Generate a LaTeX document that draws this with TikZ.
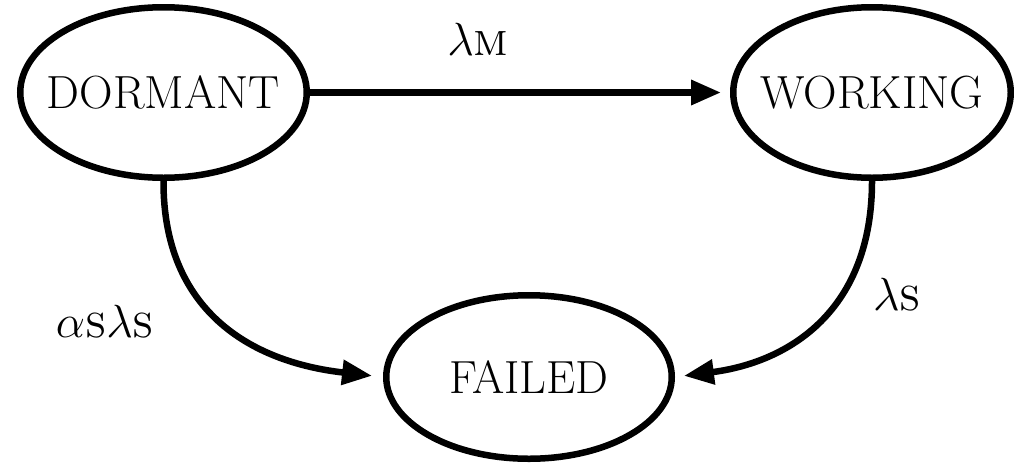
\documentclass[tikz,border=0pt]{standalone}
\usepackage{fix-cm}
\usetikzlibrary{shapes.geometric,arrows.meta}
\tikzset{
  state/.style={ellipse, draw=black, line width=6.5pt, inner sep=0pt, font=\fontsize{46.5}{54}\selectfont},
  arr/.style={line width=6.5pt, -{Triangle[length=30pt,width=24pt]}},
  lab/.style={inner sep=0pt, font=\fontsize{46.5}{54}\selectfont},
}
\begin{document}
\begin{tikzpicture}[x=1pt,y=-1pt]
\useasboundingbox (0,0) rectangle (1014,464);
\node[state, minimum width=286.5pt, minimum height=170.5pt] (d) at (163.5,92.5) {\makebox[0pt]{DORMANT}};
\node[state, minimum width=277.5pt, minimum height=170.5pt] (w) at (872,92.5) {\makebox[0pt]{WORKING}};
\node[state, minimum width=285.5pt, minimum height=163.5pt] (f) at (529,377) {\makebox[0pt]{FAILED}};
\draw[arr, shorten >=9pt] (d.east) -- (w.west);
\draw[arr, shorten >=11pt] (d.south) .. controls (163,310) and (250,362) .. (f.west);
\draw[arr, shorten >=9pt] (w.south) .. controls (872,310) and (790,362) .. (f.east);
\node[lab] (lm) at (478,39) {$\lambda$\textsc{m}};
\node[lab] (las) at (105,322) {$\alpha$\textsc{s}$\lambda$\textsc{s}};
\node[lab] (ls) at (897,295) {$\lambda$\textsc{s}};
\end{tikzpicture}
\end{document}
